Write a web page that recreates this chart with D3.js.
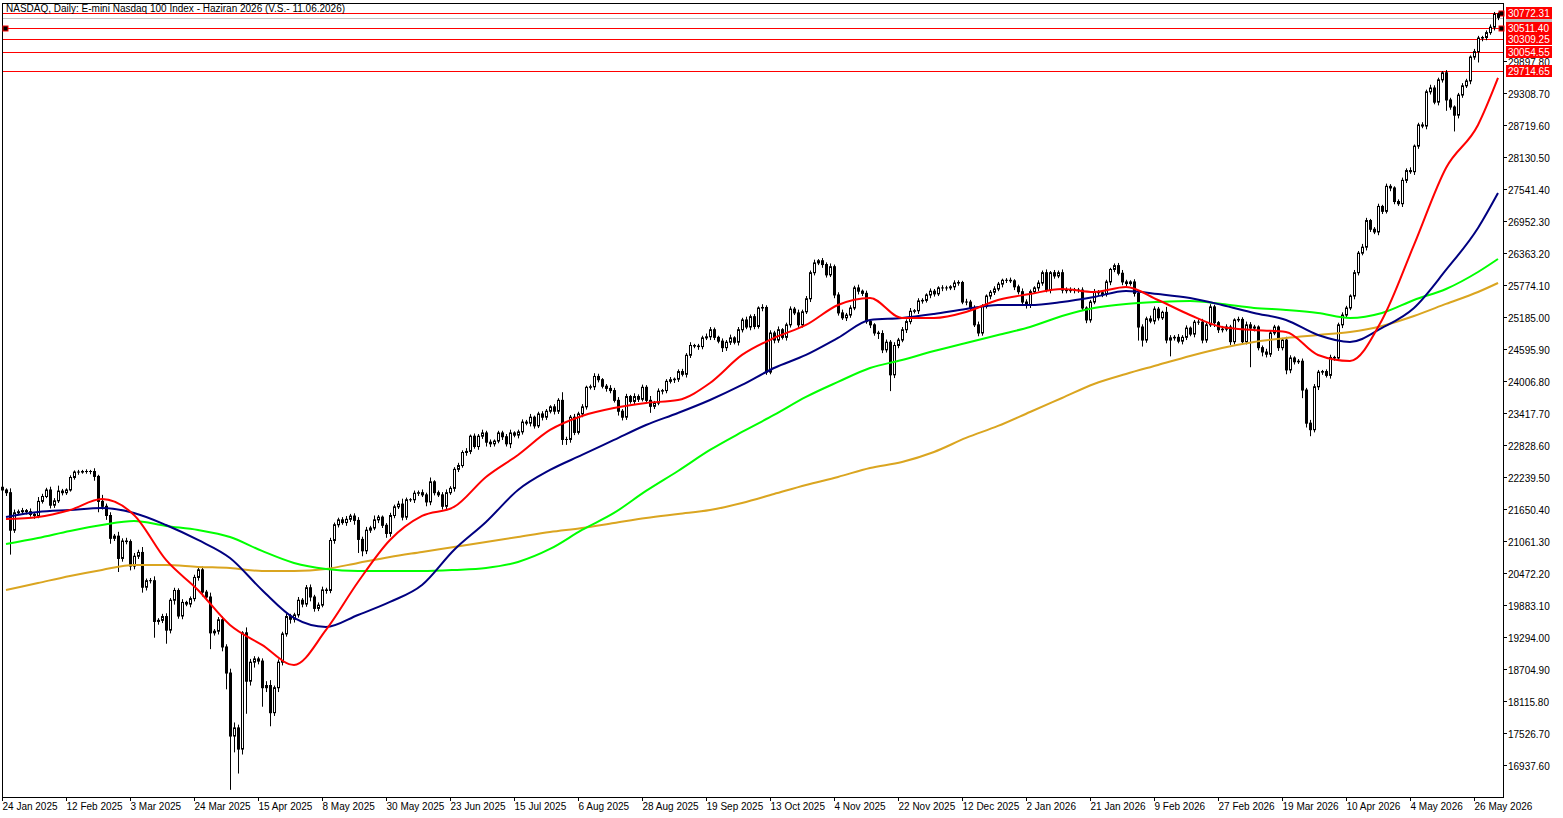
<!DOCTYPE html>
<html><head><meta charset="utf-8">
<script src="https://cdn.jsdelivr.net/npm/d3@7/dist/d3.min.js"></script>
<style>body{margin:0;background:#fff}svg{display:block}text{font-family:"Liberation Sans",Arial,sans-serif;font-size:10px}</style>
</head><body><svg id="c" width="1563" height="818"></svg>
<script>
const title = "NASDAQ, Daily:  E-mini Nasdaq 100 Index -  Haziran 2026 (V.S.- 11.06.2026)";
const closes = [22000,21950,21260,21580,21600,21620,21600,21550,21530,21790,21880,22000,21720,21800,21980,21950,22000,22230,22330,22330,22340,22340,22340,22250,21790,
21700,21530,21110,21150,20740,21060,21050,20600,20780,20850,20210,20330,20330,19580,19600,19670,19420,19970,20150,19680,19930,19900,20000,20390,20530,
20120,20030,19370,19400,19610,19110,18630,17470,17620,17230,19370,18480,18830,18890,18850,18360,18400,17900,18360,18830,19350,19670,19620,19700,19970,
19900,20200,20030,19820,19880,20160,20150,21070,21360,21450,21400,21460,21520,21440,21090,20880,21260,21300,21450,21500,21350,21200,21530,21690,21740,
21500,21820,21820,21940,21950,21910,21780,22150,21950,21910,21700,21950,22030,22380,22450,22690,22710,22990,22800,22990,23050,22880,22850,22900,23050,
22980,22850,23050,23010,23070,23250,23230,23340,23180,23400,23340,23450,23530,23450,23650,22930,22930,23340,23060,23400,23530,23890,23900,24090,24030,
23910,23870,23830,23650,23450,23340,23720,23630,23720,23670,23890,23650,23540,23600,23820,23830,24000,24030,24040,24180,24130,24480,24660,24650,24640,
24800,24820,24950,24810,24740,24620,24720,24800,24720,24950,25130,25000,25190,25010,25350,25360,24170,24890,24760,24950,24810,25040,25330,25260,25040,
25280,25520,26000,26180,26220,26150,25960,26110,25590,25260,25170,25220,25350,25720,25660,25620,25100,25040,24890,24880,24580,24720,24120,24660,24760,
24950,25100,25290,25300,25480,25490,25590,25660,25610,25720,25720,25720,25740,25810,25820,25460,25460,25350,25040,24890,25380,25570,25640,25700,25790,
25860,25860,25850,25740,25650,25460,25400,25650,25720,25810,26000,25680,26000,25940,26000,25680,25670,25690,25680,25680,25350,25130,25460,25640,25630,
25600,25830,26060,26130,25990,25830,25800,25830,25620,25000,24760,25150,25110,25330,25170,25270,24760,24800,24810,24740,24810,24980,24870,25090,25090,
24760,25040,25370,25080,24950,24960,25000,24730,25130,25140,24730,25040,24980,25000,24620,24540,24500,24890,25000,24620,24760,24210,24430,24360,24370,
23840,23230,23110,23900,24170,24180,24110,24440,24430,25040,25220,25350,25570,26000,26360,26470,26960,26800,26750,27220,27130,27590,27560,27310,27270,
27700,27880,27860,28330,28720,28700,29330,29400,29140,29550,29680,29180,29050,28900,29270,29440,29530,29970,30070,30320,30330,30420,30520,30760,30700];
const firstOpen = 22050;
// wick lengths, in tens of points
const wickHi = [5,3,8,6,4,5,3,6,4,8,5,4,6,5,10,4,3,4,3,4,3,4,3,6,3,
12,5,6,4,8,5,6,4,6,5,10,4,5,8,4,5,6,4,5,4,6,3,4,5,4,
6,4,8,4,5,6,5,8,10,6,3,10,6,5,4,5,8,10,4,5,4,6,5,4,6,
4,5,6,4,5,6,4,5,4,4,5,6,4,5,6,5,6,4,8,4,3,4,5,4,6,
10,4,3,5,4,6,4,8,3,4,5,6,4,4,5,4,6,3,5,4,6,4,5,3,4,
4,5,6,3,4,5,4,6,3,4,5,4,3,5,4,15,5,4,6,4,5,3,4,6,5,
3,4,6,5,6,4,5,3,6,4,5,4,8,4,5,3,4,5,3,4,5,4,6,3,4,
4,6,5,4,3,5,4,6,3,5,4,6,4,5,3,6,4,5,4,6,3,4,5,4,6,
4,5,4,6,3,5,4,6,4,5,6,4,5,4,6,3,5,4,3,4,6,5,4,6,4,
5,4,6,3,5,4,3,5,4,3,5,4,3,5,4,3,6,4,5,6,4,3,4,5,4,
3,4,5,3,4,6,5,4,3,5,4,6,3,5,4,6,5,4,3,4,5,3,4,6,4,
5,4,3,4,5,6,4,3,5,6,5,4,6,5,4,3,10,5,4,6,4,5,3,4,5,
6,4,5,4,3,6,5,4,3,5,4,6,5,4,3,4,6,5,4,3,4,6,5,3,4,
5,4,6,5,4,3,4,5,3,4,5,4,3,5,4,6,5,3,4,5,3,5,4,3,4,
5,4,6,3,4,5,4,6,5,4,3,5,4,3,4,5,4,3,5,4,3,4,5,4,3];
const wickLo = [4,6,45,5,4,6,5,4,6,5,4,3,6,5,4,5,4,3,4,5,3,4,5,8,20,
6,8,10,5,25,6,5,8,6,5,10,6,5,30,6,5,25,6,8,5,6,4,6,5,6,
8,6,30,5,6,8,30,99,30,45,10,60,8,10,6,35,8,25,6,8,6,5,8,6,5,
6,5,8,6,5,4,6,5,6,5,4,6,5,8,25,10,6,5,4,6,5,8,6,5,4,
6,5,4,6,5,4,8,6,5,4,6,5,4,6,5,4,6,5,4,6,5,8,6,5,4,
6,5,8,4,6,5,4,6,5,4,6,5,4,6,5,10,10,6,5,4,6,5,4,6,5,
4,6,5,4,8,6,5,4,6,5,4,6,12,5,4,6,5,4,6,5,4,6,5,4,6,
5,4,6,5,4,8,6,5,4,6,5,4,6,5,4,6,5,4,6,5,4,6,5,4,6,
5,4,6,5,4,6,5,4,6,5,4,6,5,4,6,5,4,6,5,10,6,5,30,6,5,
4,6,5,4,6,5,4,6,5,4,6,5,4,6,5,4,6,5,4,6,5,4,6,5,4,
6,5,4,6,5,4,6,5,4,6,5,4,6,5,4,6,5,4,6,5,4,6,5,4,6,
5,4,6,5,4,6,5,4,6,25,12,5,4,6,5,4,6,30,5,4,6,5,4,6,5,
6,5,4,8,6,5,4,6,5,4,6,5,72,6,5,8,6,5,4,6,5,8,6,5,4,
15,8,12,5,6,5,4,6,5,4,6,5,4,6,5,4,6,5,4,6,5,4,6,5,4,
6,5,4,6,5,4,6,5,4,6,5,20,5,30,6,5,4,6,5,20,6,5,4,6,5];
// moving averages sampled at bar indices 1,9,17,...,369 and 374
const maRed = [21466,21503,21632,21834,21540,20712,20159,19515,19147,18779,19423,20306,21080,21522,21687,22240,22645,23105,23363,23510,23602,23657,23970,24486,24799,25038,25406,25535,25167,25167,25277,25498,25608,25700,25645,25737,25498,25222,25001,24946,24909,24486,24376,25130,26511,27928,28720,29585];
const maBlue = [21503,21595,21632,21669,21577,21356,21080,20748,20159,19644,19478,19699,19939,20251,20896,21411,22000,22368,22645,22921,23197,23418,23657,23933,24246,24486,24799,25130,25167,25241,25333,25406,25406,25461,25553,25664,25608,25535,25406,25259,25130,24854,24725,24983,25351,26050,26824,27468];
const maGreen = [21007,21117,21246,21356,21430,21338,21264,21135,20878,20657,20546,20509,20509,20509,20528,20564,20675,20914,21264,21577,21982,22350,22737,23068,23381,23713,23989,24246,24393,24559,24707,24854,25001,25204,25351,25425,25461,25480,25425,25351,25314,25259,25167,25259,25498,25700,26013,26253];
const maOrange = [20159,20288,20417,20528,20620,20620,20583,20564,20509,20509,20546,20657,20767,20859,20951,21043,21135,21227,21301,21393,21485,21559,21632,21761,21926,22092,22240,22405,22516,22700,22958,23179,23436,23694,23952,24136,24301,24467,24614,24725,24799,24854,24909,25020,25204,25425,25645,25811];
const maIdx = d3.range(1, 370, 8).concat([374]);
const priceTicks = [16937.60,17526.70,18115.80,18704.90,19294.00,19883.10,20472.20,21061.30,21650.40,22239.50,22828.60,23417.70,24006.80,24595.90,25185.00,25774.10,26363.20,26952.30,27541.40,28130.50,28719.60,29308.70,29897.80];
const dateLabels = ["24 Jan 2025","12 Feb 2025","3 Mar 2025","24 Mar 2025","15 Apr 2025","8 May 2025","30 May 2025","23 Jun 2025","15 Jul 2025","6 Aug 2025","28 Aug 2025","19 Sep 2025","13 Oct 2025","4 Nov 2025","22 Nov 2025","12 Dec 2025","2 Jan 2026","21 Jan 2026","9 Feb 2026","27 Feb 2026","19 Mar 2026","10 Apr 2026","4 May 2026","26 May 2026"];
const levels = [30772.31,30511.40,30309.25,30054.55,29714.65];
const greyLevel = 30683.25;

const svg = d3.select("#c");
const L=2, R=1503, T=3, B=797;
const x = d3.scaleLinear().domain([0,374]).range([2,1498]);
const y = d3.scaleLinear().domain([16348,30965]).range([B,T]);
const fmt = d3.format(".2f");

svg.append("rect").attr("x",L+0.5).attr("y",T+0.5).attr("width",R-L).attr("height",B-T).attr("fill","#fff").attr("stroke","#000");

const bars = closes.map((c,i)=>{const o = i===0?firstOpen:closes[i-1];
  return {i,o,c,h:Math.max(o,c)+wickHi[i]*10,l:Math.min(o,c)-wickLo[i]*10};});

const plot = svg.append("g");
plot.append("line").attr("x1",L+1).attr("x2",R).attr("y1",Math.round(y(greyLevel))+0.5).attr("y2",Math.round(y(greyLevel))+0.5).attr("stroke","#c0c0c0");
levels.forEach(v=>{const yy=Math.round(y(v))+0.5;
  plot.append("line").attr("x1",L+1).attr("x2",R).attr("y1",yy).attr("y2",yy).attr("stroke","#ff0000");});
[[5,levels[1]],[1501,levels[0]],[1501,levels[1]]].forEach(([px,v])=>{
  plot.append("rect").attr("x",px-2).attr("y",Math.round(y(v))-2).attr("width",5).attr("height",5).attr("fill","#000").attr("stroke","#f00");});

const cg = plot.append("g");
bars.forEach(b=>{const cx=Math.round(x(b.i))+0.5;
  cg.append("line").attr("x1",cx).attr("x2",cx).attr("y1",y(b.h)).attr("y2",y(b.l)).attr("stroke","#000");
  const top=y(Math.max(b.o,b.c)), bot=y(Math.min(b.o,b.c));
  cg.append("rect").attr("x",cx-1).attr("y",top).attr("width",2).attr("height",Math.max(0.01,bot-top))
    .attr("fill",b.c>=b.o?"#fff":"#000").attr("stroke","#000").attr("stroke-width",1);
});

const line = d3.line().x((d,k)=>x(maIdx[k])).y(d=>y(d)).curve(d3.curveMonotoneX);
[[maOrange,"#daa520"],[maGreen,"#00ff00"],[maBlue,"#000080"],[maRed,"#ff0000"]].forEach(([s,col])=>{
  plot.append("path").attr("d",line(s)).attr("fill","none").attr("stroke",col).attr("stroke-width",2);});

svg.append("text").attr("x",6).attr("y",12).text(title);

const ax = svg.append("g");
priceTicks.forEach(v=>{const yy=Math.round(y(v))+0.5;
  ax.append("line").attr("x1",R).attr("x2",R+4).attr("y1",yy).attr("y2",yy).attr("stroke","#000");
  ax.append("text").attr("x",R+5).attr("y",yy+4).text(fmt(v));});
{const yy=Math.round(y(greyLevel));
 ax.append("rect").attr("x",R+3).attr("y",yy-4).attr("width",46).attr("height",8).attr("fill","#c0c0c0");}
levels.forEach(v=>{const yy=Math.round(y(v));
  ax.append("rect").attr("x",R+3).attr("y",yy-6).attr("width",46).attr("height",12).attr("fill","#ff0000");
  ax.append("text").attr("x",R+5).attr("y",yy+4).attr("fill","#fff").text(fmt(v));});

dateLabels.forEach((t,k)=>{const xx=Math.round(x(k*16))+0.5;
  svg.append("line").attr("x1",xx).attr("x2",xx).attr("y1",B).attr("y2",B+4).attr("stroke","#000");
  svg.append("text").attr("x",xx).attr("y",B+13).text(t);});
</script></body></html>
